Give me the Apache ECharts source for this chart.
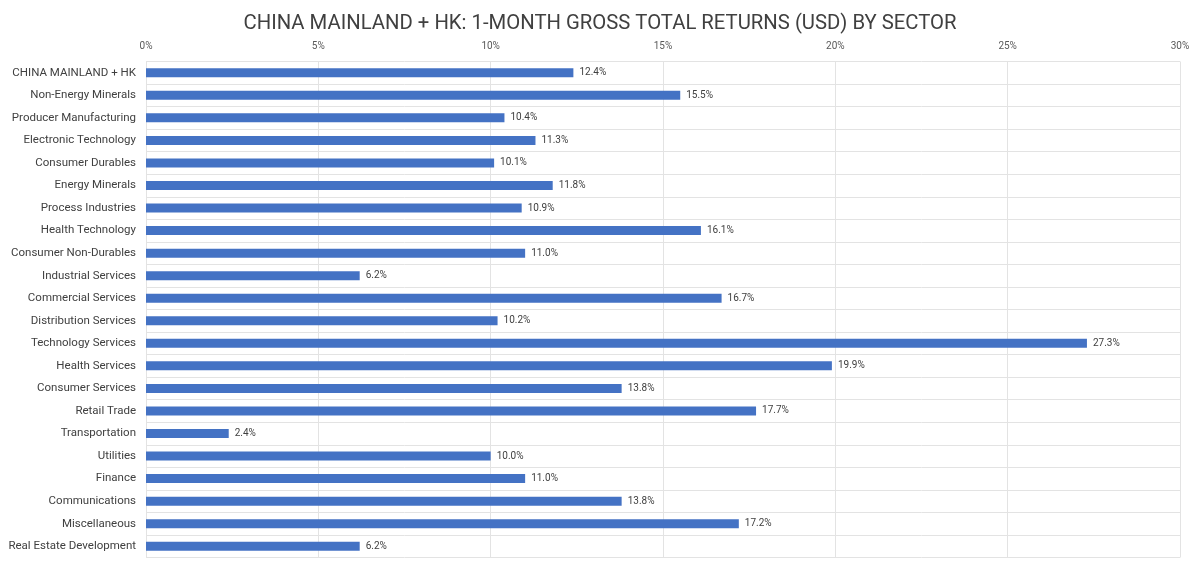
<!DOCTYPE html>
<html><head><meta charset="utf-8">
<script src="https://cdn.jsdelivr.net/npm/echarts@6/dist/echarts.min.js"></script>
<style>html,body{margin:0;padding:0;background:#fff}#c{width:1200px;height:567px}</style>
</head><body><div id="c"></div>
<script>
const title = 'CHINA MAINLAND + HK: 1-MONTH GROSS TOTAL RETURNS (USD) BY SECTOR';
const categories = ['CHINA MAINLAND + HK','Non-Energy Minerals','Producer Manufacturing','Electronic Technology','Consumer Durables','Energy Minerals','Process Industries','Health Technology','Consumer Non-Durables','Industrial Services','Commercial Services','Distribution Services','Technology Services','Health Services','Consumer Services','Retail Trade','Transportation','Utilities','Finance','Communications','Miscellaneous','Real Estate Development'];
const returns = [12.4,15.5,10.4,11.3,10.1,11.8,10.9,16.1,11.0,6.2,16.7,10.2,27.3,19.9,13.8,17.7,2.4,10.0,11.0,13.8,17.2,6.2];
const xTicks = [0,5,10,15,20,25,30];

const chart = echarts.init(document.getElementById('c'));
chart.setOption({
  animation:false,
  title:{text:title,left:'center',top:9,textStyle:{fontFamily:'Roboto',fontWeight:'normal',fontSize:20.3,color:'#404040'}},
  grid:{left:146,right:20,top:61.5,bottom:9.5,containLabel:false},
  xAxis:{type:'value',position:'top',min:xTicks[0],max:xTicks[xTicks.length-1],interval:5,
    axisLine:{show:false},axisTick:{show:false},
    axisLabel:{formatter:v=>v+'%',color:'#595959',fontSize:10,fontFamily:'Roboto',margin:10},
    splitLine:{show:true,lineStyle:{color:'#e3e3e3',width:1}}},
  yAxis:{type:'category',data:categories,inverse:true,
    axisLine:{show:true,lineStyle:{color:'#e3e3e3'}},axisTick:{show:false},
    axisLabel:{color:'#404040',fontSize:11.5,fontFamily:'Roboto',margin:10},
    splitLine:{show:true,interval:0,lineStyle:{color:'#e3e3e3',width:1}}},
  series:[{type:'bar',data:returns,barWidth:9,itemStyle:{color:'#4472C4'},
    label:{show:true,position:'right',distance:6,formatter:p=>p.value.toFixed(1)+'%',color:'#404040',fontSize:10,fontFamily:'Roboto'}}]
});
</script></body></html>
